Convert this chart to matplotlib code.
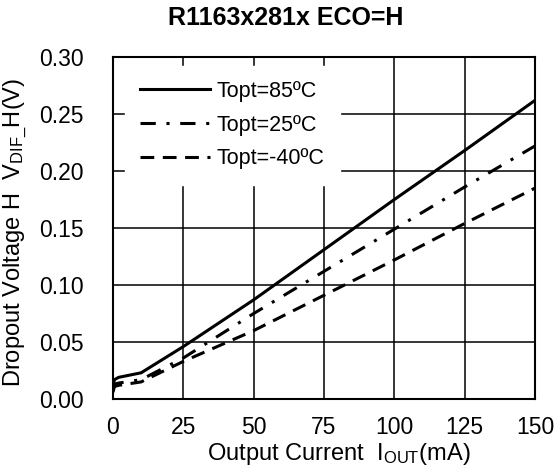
import matplotlib
matplotlib.use("Agg")
import matplotlib.pyplot as plt

plt.rcParams['font.family'] = ['Liberation Sans', 'DejaVu Sans']
plt.rcParams['mathtext.fontset'] = 'custom'
plt.rcParams['mathtext.rm'] = 'Liberation Sans'
plt.rcParams['mathtext.it'] = 'Liberation Sans'
plt.rcParams['mathtext.bf'] = 'Liberation Sans:bold'

# data (mA, V)
iout_85 = [0, 0.5, 2, 10, 25, 50, 75, 100, 125, 150]
vdif_85 = [0.010, 0.017, 0.019, 0.023, 0.046, 0.087, 0.131, 0.175, 0.218, 0.262]

iout_25 = [0, 0.5, 2, 10, 25, 50, 75, 100, 125, 150]
vdif_25 = [0.008, 0.013, 0.014, 0.017, 0.036, 0.075, 0.112, 0.149, 0.186, 0.222]

iout_m40 = [0, 0.5, 2, 10, 25, 50, 75, 100, 125, 150]
vdif_m40 = [0.006, 0.011, 0.012, 0.015, 0.033, 0.060, 0.091, 0.122, 0.154, 0.185]

labels = ["Topt=85ºC", "Topt=25ºC", "Topt=-40ºC"]
xticks = [0, 25, 50, 75, 100, 125, 150]
yticks = [0.00, 0.05, 0.10, 0.15, 0.20, 0.25, 0.30]

fig = plt.figure(figsize=(5.55, 4.74), dpi=100)
ax = fig.add_axes([0.2036, 0.1582, 0.7604, 0.7215])

ax.plot(iout_85, vdif_85, color="black", lw=2.2, linestyle="-", label=labels[0])
ax.plot(iout_25, vdif_25, color="black", lw=2.2, linestyle=(0, (5, 3.5, 1, 3.5)), label=labels[1])
ax.plot(iout_m40, vdif_m40, color="black", lw=2.2, linestyle=(0, (4.5, 2.8)), label=labels[2])

ax.set_xlim(0, 150)
ax.set_ylim(0, 0.30)
ax.set_xticks(xticks)
ax.set_yticks(yticks)
ax.set_xticklabels([str(t) for t in xticks])
ax.set_yticklabels(["%.2f" % t for t in yticks])
ax.tick_params(length=0, labelsize=16.5)
ax.tick_params(axis="y", pad=21)
ax.tick_params(axis="x", pad=12)
ax.grid(True, color="black", lw=1.1)
ax.set_axisbelow(True)
for s in ax.spines.values():
    s.set_linewidth(1.5)

fig.text(0.515, 0.962, "R1163x281x ECO=H", fontsize=18, fontweight="bold",
         ha="center", va="center")
ax.set_xlabel(r"Output Current  I$_{\mathrm{OUT}}$(mA)", fontsize=17)
ax.xaxis.set_label_coords(0.536, -0.123)
ax.set_ylabel(r"Dropout Voltage H  V$_{\mathrm{DIF\_}}$H(V)", fontsize=17)
ax.yaxis.set_label_coords(-0.199, 0.488)

leg = ax.legend(loc="upper left", fontsize=15.5, handlelength=3.25, handletextpad=0.33,
                labelspacing=0.6, borderpad=0.7, borderaxespad=0, frameon=True,
                fancybox=False, framealpha=1, facecolor="white", edgecolor="white",
                bbox_to_anchor=(0.028, 0.975))

fig.savefig("out.png", dpi=100)
